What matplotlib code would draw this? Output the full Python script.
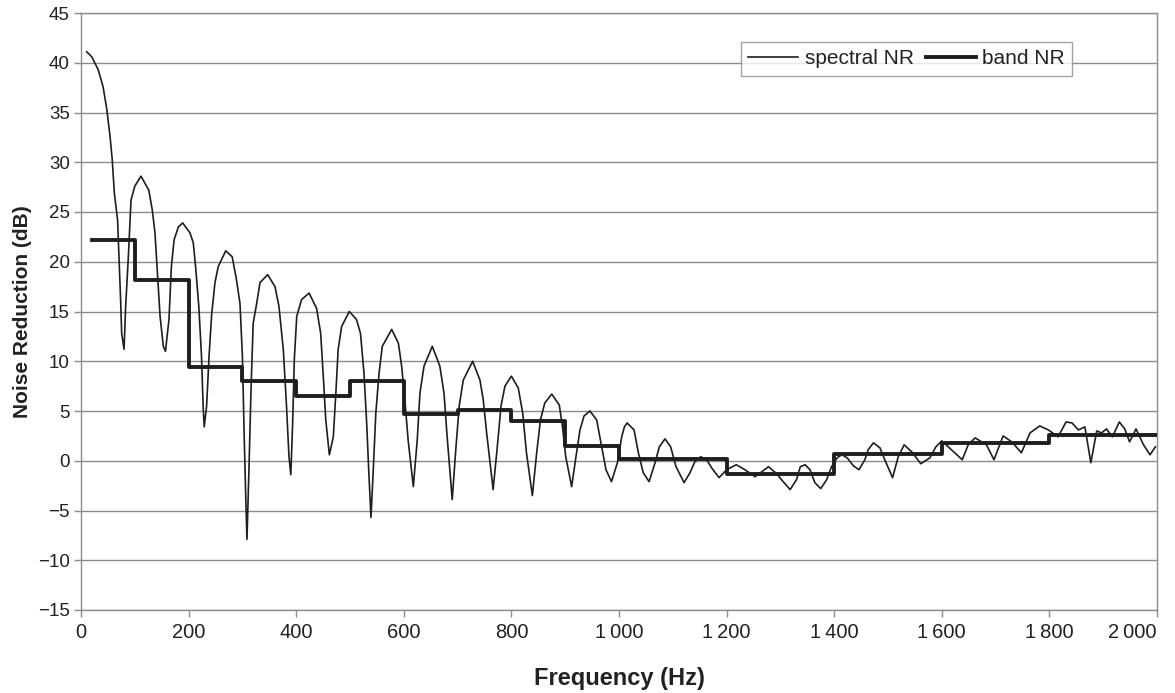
import matplotlib
matplotlib.use("Agg")
import matplotlib.pyplot as plt
from matplotlib.ticker import FixedLocator

plt.rcParams['font.family'] = ['Liberation Sans', 'DejaVu Sans']
plt.rcParams['axes.unicode_minus'] = True

# ---- data ----
spectral_freq = [10.5, 20, 32, 41, 48, 54, 58, 62, 68, 70.6, 73.6, 75.6, 80, 83, 88, 93, 100, 111.5,
                 126, 132.5, 137.5, 142, 147, 153, 157, 163.5, 168, 173, 181, 189, 202.6, 208.7, 213,
                 219, 224, 227, 229, 233.5, 238, 243, 249, 255, 269, 281, 289, 295.5, 300, 303.5,
                 306.7, 308.5, 312, 316, 320, 326.5, 332.7, 347, 360.6, 368, 376, 382, 386.6, 390,
                 393.4, 396.5, 401, 410, 424, 438, 445.5, 450, 455, 461.6, 469, 474, 478, 484.5,
                 498.7, 512, 519.5, 526, 531, 535, 539, 543, 548, 554, 560, 577.5, 590, 596, 602,
                 608, 617.7, 625, 630, 637.5, 653, 667, 674.7, 681, 690, 697, 703, 710.5, 728,
                 741.6, 747.7, 754, 766, 773.8, 780.7, 788, 800, 812.8, 821, 828, 839, 847, 854,
                 862, 875, 889, 895, 901, 912, 920, 927.5, 935, 946, 958.5, 966.5, 975.8, 986,
                 997, 1005, 1010, 1015, 1028, 1036, 1045, 1056, 1067, 1075, 1085.5, 1096, 1106,
                 1121, 1132, 1141, 1152, 1163, 1172, 1186, 1200, 1218, 1234, 1253, 1278, 1293,
                 1302, 1318, 1330, 1337, 1346, 1355, 1364, 1375, 1386, 1395, 1405.5, 1414, 1424,
                 1435.5, 1446, 1457, 1463, 1473, 1485, 1494, 1508.5, 1519, 1530, 1544, 1561,
                 1578, 1589, 1600, 1618, 1638, 1649, 1662, 1683, 1697, 1714, 1730, 1748, 1764,
                 1782, 1798, 1816, 1831, 1842, 1854, 1866, 1877, 1888, 1897, 1906, 1917, 1930,
                 1940, 1949, 1961, 1975, 1987, 1997]
spectral_nr = [41.1, 40.6, 39.3, 37.6, 35.3, 32.6, 30.3, 26.9, 24.2, 20.5, 16.2, 12.8, 11.2, 15.5,
               20.5, 26.2, 27.6, 28.6, 27.2, 25.2, 22.9, 18.9, 14.5, 11.5, 11.0, 14.2, 19.5, 22.2,
               23.5, 23.9, 22.9, 21.9, 19.5, 15.5, 10.5, 5.5, 3.4, 5.5, 10.5, 14.8, 17.9, 19.5,
               21.1, 20.5, 18.2, 15.8, 10.5, 2.1, -4.6, -7.9, -1.2, 7.1, 13.8, 15.8, 17.9, 18.7,
               17.5, 15.5, 11.2, 5.5, 0.4, -1.4, 3.8, 10.2, 14.5, 16.2, 16.85, 15.3, 12.8, 8.8,
               4.1, 0.6, 2.4, 7.1, 11.2, 13.5, 15.0, 14.2, 12.8, 8.8, 3.8, -1.2, -5.7, -1.2, 4.8,
               8.8, 11.5, 13.2, 11.8, 9.5, 6.1, 2.1, -2.6, 2.1, 6.8, 9.5, 11.5, 9.5, 6.8, 2.1,
               -3.9, 1.4, 5.5, 8.1, 10.0, 8.1, 6.1, 2.8, -2.9, 1.4, 5.5, 7.5, 8.5, 7.3, 4.8, 0.8,
               -3.5, 0.8, 4.1, 5.8, 6.7, 5.6, 3.4, 0.4, -2.6, 0.4, 3.1, 4.5, 5.0, 4.1, 1.8, -0.9,
               -2.1, -0.2, 2.4, 3.4, 3.8, 3.1, 0.8, -1.2, -2.1, -0.2, 1.4, 2.2, 1.4, -0.6, -2.2,
               -1.2, -0.1, 0.4, 0.1, -0.7, -1.7, -0.9, -0.4, -0.9, -1.6, -0.6, -1.3, -1.9, -2.9,
               -1.9, -0.6, -0.4, -0.9, -2.2, -2.8, -1.9, -0.6, 0.3, 0.6, 0.3, -0.5, -0.9, 0.1,
               1.1, 1.8, 1.3, 0.1, -1.7, 0.4, 1.6, 0.9, -0.3, 0.3, 1.4, 2.0, 1.1, 0.1, 1.6, 2.3,
               1.6, 0.1, 2.5, 1.9, 0.8, 2.8, 3.5, 3.1, 2.4, 3.9, 3.8, 3.1, 3.4, -0.2, 3.0, 2.8,
               3.2, 2.4, 3.9, 3.2, 1.9, 3.2, 1.6, 0.6, 1.4]

band_edges = [20, 100, 200, 300, 400, 500, 600, 700, 800, 900, 1000, 1200, 1400, 1600, 1800, 2000]
band_nr = [22.2, 18.2, 9.4, 8.0, 6.5, 8.0, 4.7, 5.1, 4.0, 1.5, 0.2, -1.3, 0.7, 1.8, 2.6]

x_ticks = [0, 200, 400, 600, 800, 1000, 1200, 1400, 1600, 1800, 2000]
x_tick_labels = ['0', '200', '400', '600', '800', '1\u2009000', '1\u2009200', '1\u2009400',
                 '1\u2009600', '1\u2009800', '2\u2009000']
y_ticks = [-15, -10, -5, 0, 5, 10, 15, 20, 25, 30, 35, 40, 45]

# ---- figure ----
fig = plt.figure(figsize=(11.75, 6.93), dpi=100)
ax = fig.add_axes([81 / 1175, 1 - 610 / 693, (1157 - 81) / 1175, (610 - 13) / 693])

line_col = '#1e1e1e'
ax.plot(spectral_freq, spectral_nr, color=line_col, lw=1.2, label='spectral NR', zorder=3)
ax.step(band_edges, band_nr + [band_nr[-1]], where='post', color=line_col, lw=2.8,
        label='band NR', zorder=4)

ax.set_xlim(0, 2000)
ax.set_ylim(-15, 45)
ax.xaxis.set_major_locator(FixedLocator(x_ticks))
ax.set_xticklabels(x_tick_labels)
ax.yaxis.set_major_locator(FixedLocator(y_ticks))
ax.set_yticklabels([f'{v:d}'.replace('-', '\u2212') for v in y_ticks])

ax.grid(axis='y', color='#8c8c8c', lw=1.0, zorder=0)
ax.set_axisbelow(True)
for s in ax.spines.values():
    s.set_color('#8c8c8c')
    s.set_linewidth(1.0)
ax.tick_params(axis='both', direction='out', color='#8c8c8c', length=5, width=1.0,
               labelcolor='#222222')
ax.tick_params(axis='y', labelsize=13.5, pad=3)
ax.tick_params(axis='x', labelsize=14.5, pad=4)
ax.get_xticklabels()[-1].set_horizontalalignment('right')

ax.set_xlabel('Frequency (Hz)', fontsize=17, fontweight='bold', labelpad=18, color='#222222')
ax.set_ylabel('Noise Reduction (dB)', fontsize=15, fontweight='bold', labelpad=4,
              color='#222222')

leg = ax.legend(loc='upper left', bbox_to_anchor=((741 - 81) / 1076, (610 - 42) / 597),
                ncol=2, frameon=True, fancybox=False, fontsize=15, handlelength=2.4,
                handletextpad=0.3, columnspacing=0.6, borderpad=0.35, borderaxespad=0)
leg.get_frame().set_edgecolor('#8c8c8c')
leg.get_frame().set_linewidth(1.0)
for t in leg.get_texts():
    t.set_color('#222222')

fig.savefig('out.png', dpi=100, facecolor='white')
